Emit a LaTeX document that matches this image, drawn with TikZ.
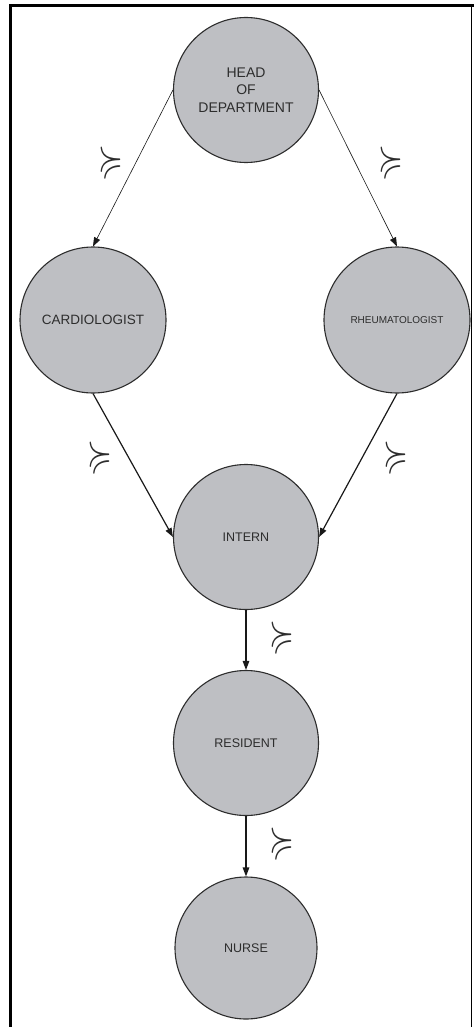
\documentclass[tikz,border=0pt]{standalone}
\usepackage{fontspec}
\setmainfont{Liberation Sans}
\usepackage{amssymb}
\usetikzlibrary{arrows.meta}
\definecolor{roleGray}{RGB}{190,191,195}
\definecolor{inkGray}{RGB}{45,45,45}
\begin{document}
\begin{tikzpicture}[x=1pt,y=-1pt,
  role/.style={circle, draw=inkGray, line width=1.1pt, fill=roleGray,
    minimum size=#1, inner sep=0pt, text=inkGray, align=center,
    font=\fontsize{12.5}{15}\selectfont},
  role/.default=145pt,
  link/.style={-{Triangle[length=9pt,width=6.5pt]}, draw=black!90},
  pref/.style={inner sep=0pt, text=inkGray}
]
% page frame
\useasboundingbox (0,0) rectangle (474,1027);
\fill[white] (0,0) rectangle (474,1027);
\draw[line width=3pt] (10.5,1027) -- (10.5,6) -- (474,6);
\draw[line width=0.8pt] (471.5,6) -- (471.5,1027);

% roles
\node[role, font=\fontsize{14}{17.5}\selectfont] (head) at (246,90) {HEAD\\OF\\DEPARTMENT};
\node[role=146pt, font=\fontsize{13.5}{15}\selectfont] (card) at (93,320) {CARDIOLOGIST};
\node[role=146pt, font=\fontsize{10}{12}\selectfont] (rheum) at (397,320) {RHEUMATOLOGIST};
\node[role] (intern) at (246,537) {INTERN};
\node[role] (resident) at (246,743) {RESIDENT};
\node[role, role=142pt] (nurse) at (246,948) {NURSE};

% reporting lines
\draw[link, line width=0.6pt] (head.west) -- (card.north);
\draw[link, line width=0.6pt] (head.east) -- (rheum.north);
\draw[link, line width=1.2pt] (card.south) -- (intern.west);
\draw[link, line width=1.2pt] (rheum.south) -- (intern.east);
\draw[link, line width=1.2pt] (intern.south) -- (resident.north);
\draw[link, line width=1.2pt] (resident.south) -- (nurse.north);

% preference marks
\newcommand{\prefmark}{\scalebox{3.2}[4.4]{$\succcurlyeq$}}
\node[pref] (p1) at (111,162) {\prefmark};
\node[pref] (p2) at (391,162) {\prefmark};
\node[pref] (p3) at (100,456) {\prefmark};
\node[pref] (p4) at (396,456) {\prefmark};
\node[pref] (p5) at (282,636) {\prefmark};
\node[pref] (p6) at (282,842) {\prefmark};
\end{tikzpicture}
\end{document}
